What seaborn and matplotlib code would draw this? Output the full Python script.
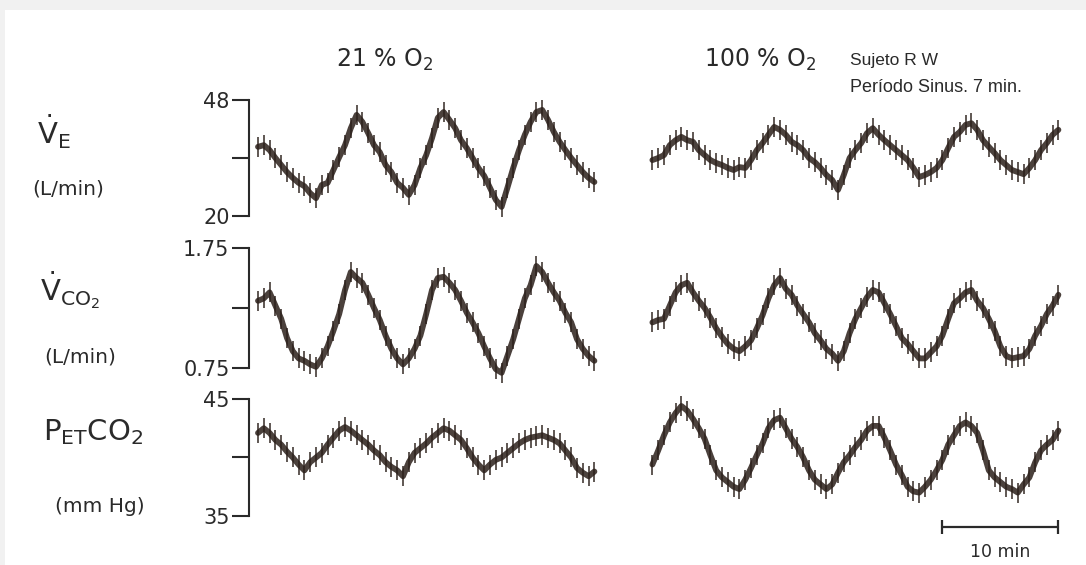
import numpy as np
import matplotlib
matplotlib.use("Agg")
import matplotlib.pyplot as plt
import seaborn as sns
from matplotlib.patches import Rectangle

# ---------------- data ----------------
# time in minutes, sampled every 0.5 min
t_left = np.arange(0, 29.5, 0.5)      # 21 % O2 segment
t_right = np.arange(34, 69.5, 0.5)    # 100 % O2 segment

ve_left = [36.7, 37.1, 35.9, 34.0, 32.3, 30.6, 29.2, 28.0, 27.2, 25.5, 24.3, 27.5,
           28.0, 31.1, 34.2, 37.1, 41.2, 44.4, 42.7, 40.0, 37.1, 35.4, 32.3, 30.6,
           28.0, 26.8, 25.1, 27.5, 31.6, 34.7, 38.8, 43.7, 45.1, 43.2, 41.2, 38.3,
           36.4, 34.0, 31.6, 29.7, 26.8, 23.9, 22.2, 26.8, 31.6, 35.9, 39.6, 42.7,
           45.1, 45.6, 43.2, 40.3, 37.9, 35.9, 34.0, 32.3, 30.6, 29.2, 28.2]
ve_right = [33.5, 34.0, 34.7, 37.1, 38.3, 39.1, 38.3, 37.9, 35.9, 34.7, 33.5, 32.8,
            32.3, 31.6, 31.1, 31.8, 31.6, 33.5, 35.9, 37.6, 39.6, 41.5, 40.8, 39.6,
            37.9, 37.1, 35.9, 34.0, 33.0, 31.6, 29.9, 28.7, 26.3, 29.9, 34.0, 35.9,
            37.6, 40.0, 41.2, 39.6, 38.3, 37.1, 35.9, 34.7, 33.5, 31.6, 29.4, 29.9,
            30.6, 31.6, 33.5, 36.4, 39.1, 40.3, 42.0, 42.4, 40.8, 38.3, 36.7, 35.2,
            33.5, 32.3, 31.1, 30.6, 30.1, 31.6, 33.5, 35.9, 37.6, 39.6, 40.8]

vco2_left = [1.31, 1.33, 1.38, 1.27, 1.16, 1.00, 0.89, 0.83, 0.81, 0.78, 0.76, 0.83,
             0.93, 1.06, 1.20, 1.40, 1.55, 1.50, 1.46, 1.36, 1.25, 1.15, 1.02, 0.91,
             0.83, 0.78, 0.83, 0.91, 1.02, 1.20, 1.40, 1.50, 1.51, 1.46, 1.40, 1.31,
             1.21, 1.13, 1.04, 0.93, 0.83, 0.74, 0.71, 0.85, 0.99, 1.16, 1.33, 1.44,
             1.60, 1.55, 1.46, 1.38, 1.31, 1.21, 1.13, 0.99, 0.91, 0.85, 0.81]
vco2_right = [1.13, 1.15, 1.16, 1.27, 1.38, 1.44, 1.46, 1.38, 1.31, 1.25, 1.17, 1.08,
              1.01, 0.95, 0.91, 0.89, 0.93, 0.98, 1.08, 1.19, 1.33, 1.44, 1.50, 1.41,
              1.36, 1.27, 1.20, 1.13, 1.04, 0.98, 0.91, 0.87, 0.81, 0.89, 1.04, 1.16,
              1.25, 1.34, 1.40, 1.38, 1.29, 1.20, 1.10, 1.00, 0.95, 0.89, 0.83, 0.83,
              0.88, 0.93, 1.02, 1.16, 1.29, 1.33, 1.38, 1.40, 1.31, 1.25, 1.16, 1.06,
              0.93, 0.85, 0.83, 0.84, 0.85, 0.91, 1.02, 1.10, 1.20, 1.27, 1.36]

petco2_left = [42.1, 42.5, 42.1, 41.5, 41.1, 40.5, 40.0, 39.4, 38.9, 39.6, 40.0, 40.4,
               41.1, 41.7, 42.3, 42.6, 42.3, 41.9, 41.5, 41.1, 40.6, 40.2, 39.6, 39.2,
               38.9, 38.4, 39.6, 40.4, 40.8, 41.2, 41.7, 42.1, 42.5, 42.3, 41.9, 41.5,
               40.8, 40.0, 39.4, 38.9, 39.4, 39.8, 40.0, 40.4, 40.8, 41.2, 41.5, 41.7,
               41.8, 41.9, 41.7, 41.5, 41.2, 40.6, 40.0, 39.1, 38.7, 38.4, 38.8]
petco2_right = [39.4, 40.6, 41.9, 43.0, 43.8, 44.4, 44.0, 43.3, 42.5, 41.6, 40.2, 38.9,
                38.3, 37.9, 37.5, 37.3, 38.1, 39.1, 40.2, 41.2, 42.5, 43.2, 43.4, 42.5,
                41.6, 40.9, 40.0, 38.9, 38.1, 37.7, 37.3, 37.7, 38.7, 39.6, 40.2, 40.9,
                41.5, 42.3, 42.7, 42.7, 41.7, 40.6, 39.4, 38.5, 37.5, 37.1, 37.0, 37.5,
                38.1, 38.9, 39.8, 41.1, 41.9, 42.7, 43.0, 42.7, 42.1, 40.6, 38.9, 38.3,
                37.9, 37.5, 37.3, 37.0, 37.7, 38.3, 39.6, 40.6, 41.1, 41.5, 42.3]

row_limits = [(20, 48), (0.75, 1.75), (35, 45)]
row_ticklabels = [["20", "", "48"], ["0.75", "", "1.75"], ["35", "", "45"]]
row_names = [r"$\dot{\mathrm{V}}_{\mathrm{E}}$", r"$\dot{\mathrm{V}}_{\mathrm{CO_2}}$",
             r"$\mathrm{P_{ET}CO_2}$"]
row_units = ["(L/min)", "(L/min)", "(mm Hg)"]
scale_start, scale_len = 59.0, 10.0  # minutes

# ---------------- drawing ----------------
sns.set_theme(style="white")
plt.rcParams["font.family"] = ["DejaVu Sans"]
plt.rcParams["mathtext.fontset"] = "dejavusans"

W, H = 1086, 565
fig = plt.figure(figsize=(W / 100, H / 100), dpi=100, facecolor="#f1f1f1")
fig.patches.append(Rectangle((5 / W, 0), 1, 1 - 10 / H, transform=fig.transFigure,
                             facecolor="white", edgecolor="none", zorder=-10))

ink = "#2b1f1a"
txt = "#2a2a2a"

def fx(x):
    return x / W

def fy(y):
    return 1 - y / H

row_px = [(100, 216), (248, 368), (399, 516)]
x_left_px, x_right_px = 249, 1075
px_per_min = 11.6
t0_px = 258
xlim = ((x_left_px - t0_px) / px_per_min, (x_right_px - t0_px) / px_per_min)

series = [(ve_left, ve_right), (vco2_left, vco2_right), (petco2_left, petco2_right)]
axes = []
for i, ((top, bot), (lo, hi)) in enumerate(zip(row_px, row_limits)):
    ax = fig.add_axes([fx(x_left_px), fy(bot), fx(x_right_px) - fx(x_left_px),
                       (bot - top) / H])
    ax.set_facecolor("none")
    left, right = series[i]
    for tt, vv in ((t_left, left), (t_right, right)):
        sns.lineplot(x=tt, y=vv, ax=ax, color=ink, lw=4.2, alpha=0.85, clip_on=False)
        sns.lineplot(x=tt, y=vv, ax=ax, color=ink, lw=0, marker="|",
                     markersize=15, markeredgewidth=1.4, markeredgecolor=ink,
                     alpha=0.75, clip_on=False)
    ax.set_xlim(*xlim)
    ax.set_ylim(lo, hi)
    for s in ("top", "right", "bottom"):
        ax.spines[s].set_visible(False)
    ax.spines["left"].set_color(txt)
    ax.spines["left"].set_linewidth(1.5)
    ax.set_xticks([])
    ax.set_yticks([lo, (lo + hi) / 2, hi])
    ax.set_yticklabels(row_ticklabels[i])
    ax.tick_params(axis="y", direction="out", length=12, width=1.5, color=txt,
                   labelsize=15, labelcolor=txt, pad=2, left=True)
    ax.set_xlabel("")
    ax.set_ylabel("")
    axes.append(ax)

# row labels
label_y = [(132, 189), (290, 357), (432, 507)]
label_x = [(37, 68), (40, 80), (43, 100)]
for i in range(3):
    fig.text(fx(label_x[i][0]), fy(label_y[i][0]), row_names[i], fontsize=21,
             color=txt, ha="left", va="center")
    fig.text(fx(label_x[i][1]), fy(label_y[i][1]), row_units[i], fontsize=14.5,
             color=txt, ha="center", va="center")

# headers
fig.text(fx(385), fy(60), r"21 % O$_2$", fontsize=17, color=txt, ha="center", va="center")
fig.text(fx(760), fy(60), r"100 % O$_2$", fontsize=17, color=txt, ha="center", va="center")
fig.text(fx(850), fy(61), "Sujeto R W", fontsize=12.5, color=txt, ha="left", va="center",
         family="Liberation Sans")
fig.text(fx(850), fy(88), "Período Sinus. 7 min.", fontsize=13, color=txt,
         ha="left", va="center", family="Liberation Sans")

# 10 min scale bar (in data units of the bottom axes)
axb = axes[2]
bar_y = 35 - (527 - 516) * 10 / (516 - 399)
axb.plot([scale_start, scale_start + scale_len], [bar_y, bar_y], color=txt, lw=1.6,
         clip_on=False, marker="|", markersize=10, markeredgewidth=1.6)
fig.text(fx(1000), fy(552), "10 min", fontsize=12.5, color=txt, ha="center", va="center")

fig.savefig("out.png", dpi=100, facecolor=fig.get_facecolor())
